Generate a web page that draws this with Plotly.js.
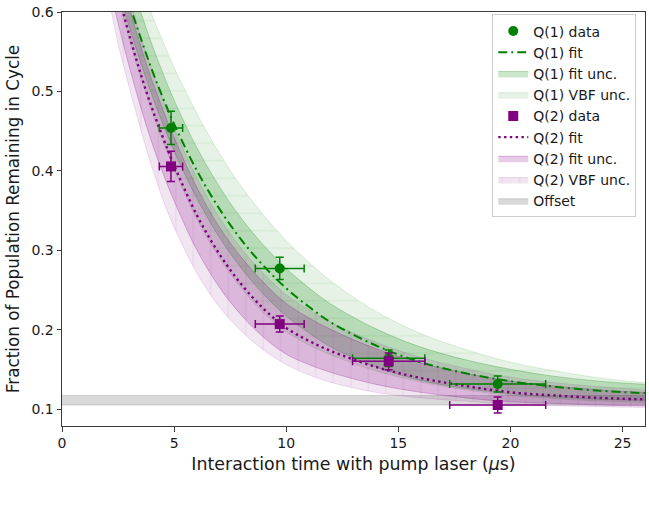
<!DOCTYPE html>
<html>
<head>
<meta charset="utf-8">
<script src="https://cdn.plot.ly/plotly-3.0.1.min.js"></script>
<style>
  html, body { margin: 0; padding: 0; background: #ffffff; }
  #chart { width: 649px; height: 512px; }
</style>
</head>
<body>
<div id="chart"></div>
<script>
// Measured populations after each pumping interval
const pulseTimes    = [4.86, 9.71, 14.57, 19.43];
const pulseTimeErr  = [0.52, 1.09, 1.61, 2.14];
const q1Frac        = [0.454, 0.277, 0.164, 0.1315];
const q1FracErr     = [0.021, 0.014, 0.0104, 0.010];
const q2Frac        = [0.4055, 0.207, 0.160, 0.105];
const q2FracErr     = [0.019, 0.010, 0.0105, 0.010];

// Fitted decay curves and their uncertainty envelopes, sampled on a common time grid
const timeGrid  = [2, 2.5, 3, 3.5, 4, 4.5, 5, 6, 7, 8, 9, 10, 11, 12, 14, 16, 18, 20, 22, 24, 26];
const q1Fit     = [0.711, 0.659, 0.611, 0.568, 0.528, 0.492, 0.459, 0.401, 0.353, 0.313, 0.280, 0.252, 0.229, 0.209, 0.180, 0.159, 0.145, 0.135, 0.128, 0.123, 0.120];
const q1FitHi   = [0.747, 0.694, 0.645, 0.601, 0.560, 0.523, 0.489, 0.430, 0.381, 0.340, 0.306, 0.277, 0.253, 0.232, 0.201, 0.178, 0.162, 0.150, 0.141, 0.135, 0.131];
const q1FitLo   = [0.681, 0.629, 0.581, 0.537, 0.496, 0.459, 0.425, 0.366, 0.317, 0.277, 0.244, 0.217, 0.196, 0.178, 0.153, 0.136, 0.126, 0.119, 0.115, 0.112, 0.111];
const q1VbfHi   = [0.765, 0.718, 0.675, 0.635, 0.597, 0.563, 0.530, 0.473, 0.423, 0.380, 0.344, 0.312, 0.285, 0.261, 0.223, 0.195, 0.175, 0.159, 0.148, 0.139, 0.133];
const q1VbfLo   = [0.678, 0.619, 0.566, 0.518, 0.475, 0.437, 0.402, 0.340, 0.291, 0.252, 0.221, 0.197, 0.181, 0.168, 0.148, 0.134, 0.124, 0.117, 0.113, 0.110, 0.108];

const q2Fit     = [0.683, 0.624, 0.571, 0.523, 0.480, 0.442, 0.407, 0.345, 0.296, 0.257, 0.226, 0.202, 0.186, 0.173, 0.153, 0.139, 0.129, 0.121, 0.117, 0.114, 0.112];
const q2FitHi   = [0.718, 0.659, 0.606, 0.558, 0.515, 0.477, 0.442, 0.380, 0.330, 0.291, 0.259, 0.233, 0.215, 0.200, 0.176, 0.158, 0.145, 0.135, 0.129, 0.124, 0.121];
const q2FitLo   = [0.648, 0.586, 0.531, 0.481, 0.436, 0.397, 0.362, 0.301, 0.254, 0.218, 0.190, 0.169, 0.156, 0.146, 0.131, 0.121, 0.114, 0.109, 0.107, 0.105, 0.104];
const q2VbfHi   = [0.730, 0.671, 0.618, 0.570, 0.527, 0.489, 0.454, 0.392, 0.342, 0.302, 0.270, 0.244, 0.225, 0.209, 0.184, 0.165, 0.151, 0.140, 0.133, 0.128, 0.124];
const q2VbfLo   = [0.630, 0.560, 0.505, 0.453, 0.4055, 0.364, 0.329, 0.272, 0.229, 0.198, 0.174, 0.156, 0.143, 0.1335, 0.121, 0.114, 0.110, 0.106, 0.104, 0.103, 0.102];

// Constant background level
const offsetX    = [0, 26];
const offsetLo   = [0.105, 0.105];
const offsetHi   = [0.117, 0.117];

const GREEN  = '#008000';
const PURPLE = '#800080';
const FONT   = 'DejaVu Sans, sans-serif';

function band(x, lo, hi, name, rank, fill, edge, pattern) {
  const lower = {
    x: x, y: lo, mode: 'lines', showlegend: false, hoverinfo: 'skip',
    line: {color: edge, width: 1, shape: 'spline'}
  };
  const upper = {
    x: x, y: hi, mode: 'lines', name: name, legendrank: rank, fill: 'tonexty',
    fillcolor: fill, line: {color: edge, width: 1, shape: 'spline'}
  };
  if (pattern) upper.fillpattern = pattern;
  return [lower, upper];
}

// Bands first (Q(1) underneath Q(2)), then fit lines, then the measured points
const traces = [].concat(
  band(offsetX, offsetLo, offsetHi, 'Offset', 9,
       'rgba(128,128,128,0.3)', 'rgba(128,128,128,0.3)'),
  band(timeGrid, q1VbfLo, q1VbfHi, 'Q(1) VBF unc.', 4,
       'rgba(0,128,0,0.10)', 'rgba(0,128,0,0.12)',
       {shape: '-', size: 17.5, solidity: 0.07, fillmode: 'overlay',
        fgcolor: 'rgba(0,128,0,0.14)', bgcolor: 'rgba(0,128,0,0.10)'}),
  band(timeGrid, q1FitLo, q1FitHi, 'Q(1) fit unc.', 3,
       'rgba(0,128,0,0.20)', 'rgba(0,128,0,0.25)'),
  band(timeGrid, q2VbfLo, q2VbfHi, 'Q(2) VBF unc.', 8,
       'rgba(128,0,128,0.10)', 'rgba(128,0,128,0.12)',
       {shape: '|', size: 17.5, solidity: 0.07, fillmode: 'overlay',
        fgcolor: 'rgba(128,0,128,0.14)', bgcolor: 'rgba(128,0,128,0.10)'}),
  band(timeGrid, q2FitLo, q2FitHi, 'Q(2) fit unc.', 7,
       'rgba(128,0,128,0.20)', 'rgba(128,0,128,0.25)'),
  [
    {x: timeGrid, y: q2Fit, mode: 'lines', name: 'Q(2) fit', legendrank: 6,
     line: {color: PURPLE, width: 2.4, dash: '2.4px,3.4px', shape: 'spline'}},
    {x: timeGrid, y: q1Fit, mode: 'lines', name: 'Q(1) fit', legendrank: 2,
     line: {color: GREEN, width: 2, dash: '9px,4px,2px,4px', shape: 'spline'}},
    {x: pulseTimes, y: q1Frac, mode: 'markers', name: 'Q(1) data', legendrank: 1,
     marker: {symbol: 'circle', size: 10, color: GREEN},
     error_x: {type: 'data', array: pulseTimeErr, color: GREEN, thickness: 1.5, width: 4},
     error_y: {type: 'data', array: q1FracErr, color: GREEN, thickness: 1.5, width: 4}},
    {x: pulseTimes, y: q2Frac, mode: 'markers', name: 'Q(2) data', legendrank: 5,
     marker: {symbol: 'square', size: 10, color: PURPLE},
     error_x: {type: 'data', array: pulseTimeErr, color: PURPLE, thickness: 1.5, width: 4},
     error_y: {type: 'data', array: q2FracErr, color: PURPLE, thickness: 1.5, width: 4}}
  ]
);

const axisCommon = {
  showgrid: false, zeroline: false, showline: true, mirror: true,
  linecolor: '#3a3a3a', linewidth: 1,
  ticks: 'outside', ticklen: 4.5, tickwidth: 1, tickcolor: '#3a3a3a',
  tickfont: {family: FONT, size: 14, color: '#1a1a1a'}
};

const layout = {
  width: 649, height: 512,
  margin: {l: 62, r: 4, t: 12, b: 86},
  paper_bgcolor: '#ffffff', plot_bgcolor: '#ffffff',
  font: {family: FONT, color: '#1a1a1a'},
  xaxis: Object.assign({}, axisCommon, {
    range: [0, 26], tickvals: [0, 5, 10, 15, 20, 25],
    title: {text: 'Interaction time with pump laser (<i>μ</i>s)', standoff: 7,
            font: {family: FONT, size: 17.4, color: '#1a1a1a'}}
  }),
  yaxis: Object.assign({}, axisCommon, {
    range: [0.0786, 0.6], tickvals: [0.1, 0.2, 0.3, 0.4, 0.5, 0.6],
    ticktext: ['0.1', '0.2', '0.3', '0.4', '0.5', '0.6'],
    title: {text: 'Fraction of Population Remaining in Cycle', standoff: 7,
            font: {family: FONT, size: 16.8, color: '#1a1a1a'}}
  }),
  legend: {
    x: 0.985, y: 0.994, xanchor: 'right', yanchor: 'top',
    bgcolor: 'rgba(255,255,255,0.85)', bordercolor: '#cccccc', borderwidth: 1,
    font: {family: FONT, size: 14, color: '#1a1a1a'},
    traceorder: 'normal'
  },
  showlegend: true
};

Plotly.newPlot('chart', traces, layout, {displayModeBar: false, staticPlot: true});
</script>
</body>
</html>
